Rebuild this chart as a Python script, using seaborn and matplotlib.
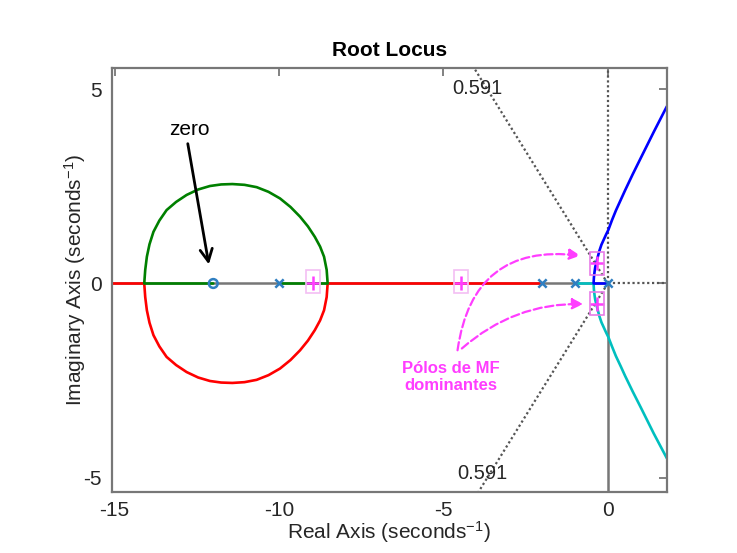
import numpy as np
import pandas as pd
import matplotlib
matplotlib.use("Agg")
import matplotlib.pyplot as plt
import seaborn as sns
from matplotlib.patches import Rectangle

# ---------------- data ----------------
pole_re = [0.0, -1.0, -2.0, -10.0]
pole_im = [0.0, 0.0, 0.0, 0.0]
zero_re = [-12.0]
zero_im = [0.0]

# branch starting at pole 0 (blue, upper)
blue_x = [0.0, -0.43, -0.42, -0.40, -0.38, -0.35, -0.30, -0.25, -0.19, -0.12, -0.05,
          0.02, 0.13, 0.25, 0.39, 0.53, 0.76, 1.00, 1.20, 1.40, 1.60, 1.80]
blue_y = [0.0, 0.0, 0.15, 0.30, 0.42, 0.52, 0.69, 0.85, 1.00, 1.13, 1.26,
          1.38, 1.63, 1.88, 2.14, 2.40, 2.81, 3.22, 3.56, 3.90, 4.23, 4.56]
# branch starting at pole -1 (cyan, lower)
cyan_x = [-1.0, -0.43, -0.42, -0.40, -0.38, -0.35, -0.30, -0.25, -0.19, -0.12, -0.05,
          0.02, 0.13, 0.25, 0.39, 0.53, 0.76, 1.00, 1.20, 1.40, 1.60, 1.80]
cyan_y = [0.0, 0.0, -0.15, -0.30, -0.42, -0.52, -0.69, -0.85, -1.00, -1.13, -1.26,
          -1.38, -1.62, -1.87, -2.12, -2.38, -2.78, -3.18, -3.52, -3.86, -4.18, -4.50]
# branch starting at pole -2 (red): real axis, lower arc, then to -inf
red_x = [-2.0, -8.52, -8.55, -8.63, -8.75, -8.91, -9.12, -9.36, -9.65, -9.97, -10.32,
         -10.68, -11.05, -11.42, -11.76, -12.10, -12.46, -12.81, -13.13, -13.42, -13.64,
         -13.82, -13.94, -14.02, -14.07, -14.10, -16.0]
red_y = [0.0, 0.0, -0.35, -0.69, -0.95, -1.20, -1.47, -1.72, -1.97, -2.19, -2.36,
         -2.48, -2.54, -2.56, -2.55, -2.51, -2.42, -2.28, -2.10, -1.89, -1.62,
         -1.33, -1.01, -0.69, -0.35, 0.0, 0.0]
# branch starting at pole -10 (green): real axis, upper arc, then to zero -12
green_x = [-10.0, -8.52, -8.55, -8.63, -8.75, -8.91, -9.12, -9.36, -9.65, -9.97, -10.32,
           -10.68, -11.05, -11.42, -11.76, -12.10, -12.46, -12.81, -13.13, -13.42, -13.64,
           -13.82, -13.94, -14.02, -14.07, -14.10, -12.0]
green_y = [0.0, 0.0, 0.35, 0.69, 0.95, 1.20, 1.47, 1.72, 1.97, 2.19, 2.36,
           2.48, 2.54, 2.56, 2.55, 2.51, 2.42, 2.28, 2.10, 1.89, 1.62,
           1.33, 1.01, 0.69, 0.35, 0.0, 0.0]

# selected closed-loop poles (magenta +)
dom_re = [-0.33, -0.33]
dom_im = [0.52, -0.52]
other_re = [-8.97, -4.45]
other_im = [0.0, 0.0]

zeta = 0.591
zeta_label = "0.591"

# ---------------- style ----------------
sns.set_theme(style="white")
plt.rcParams["font.family"] = ["Liberation Sans", "DejaVu Sans"]
plt.rcParams["mathtext.fontset"] = "custom"
plt.rcParams["mathtext.rm"] = "Liberation Sans"
plt.rcParams["mathtext.default"] = "regular"

W, H = 737, 553
fig = plt.figure(figsize=(W / 100, H / 100), dpi=100)
ax = fig.add_axes([111.7 / W, 1 - 491.7 / H, (666.7 - 111.7) / W, (491.7 - 68.3) / H])

XMIN, XMAX = -15.09, 1.795
YMIN, YMAX = -5.36, 5.54

grid_col = "#555555"
axis_col = "#777777"

# real / imaginary axis lines
ax.plot([XMIN - 1, 0], [0, 0], color=axis_col, lw=1.8, zorder=1)
ax.plot([0, XMAX + 1], [0, 0], color=grid_col, lw=1.6, ls=(0, (1, 1.2)), zorder=1)
ax.plot([0, 0], [YMIN - 1, 0], color=axis_col, lw=1.8, zorder=1)
ax.plot([0, 0], [0, YMAX + 1], color=grid_col, lw=1.6, ls=(0, (1, 1.2)), zorder=1)

# damping lines
slope = np.tan(np.arccos(zeta))
for sgn in (1, -1):
    ax.plot([0, -10], [0, sgn * 10 * slope], color=grid_col, lw=1.6,
            ls=(0, (1, 1.2)), zorder=1)
ax.text(-3.98, 5.03, zeta_label, fontsize=14.5, color="#262626", ha="center", va="center")
ax.text(-3.82, -4.90, zeta_label, fontsize=14.5, color="#262626", ha="center", va="center")

# branches
lw = 1.9
sns.lineplot(x=red_x, y=red_y, sort=False, estimator=None, color="#FF0000", lw=lw, ax=ax)
sns.lineplot(x=green_x, y=green_y, sort=False, estimator=None, color="#008000", lw=lw, ax=ax)
sns.lineplot(x=cyan_x, y=cyan_y, sort=False, estimator=None, color="#00BFBF", lw=lw, ax=ax)
sns.lineplot(x=blue_x, y=blue_y, sort=False, estimator=None, color="#0000FF", lw=lw, ax=ax)

# poles and zero
mcol = "#2F7FC1"
sns.scatterplot(x=pole_re, y=pole_im, marker="x", s=36, color=mcol, linewidth=1.8,
                ax=ax, zorder=5)
ax.scatter(zero_re, zero_im, marker="o", s=40, facecolors="none", edgecolors=mcol,
           linewidths=1.8, zorder=5)

# selected poles with boxes
mag = "#FF3DFF"
sns.scatterplot(x=dom_re + other_re, y=dom_im + other_im, marker="+", s=90, color=mag,
                linewidth=1.8, ax=ax, zorder=6)
bw, bh = 0.43, 0.59
for xr, yi in zip(dom_re, dom_im):
    ax.add_patch(Rectangle((xr - bw / 2, yi - bh / 2), bw, bh, fill=False,
                           edgecolor="#E77BE7", lw=1.2, zorder=6))
for xr, yi in zip(other_re, other_im):
    ax.add_patch(Rectangle((xr - bw / 2, yi - bh / 2 + 0.05), bw, bh, fill=False,
                           edgecolor="#F3BFF3", lw=1.2, zorder=6))

# annotations
ax.text(-12.73, 3.72, "zero", fontsize=15, color="black", ha="center", va="bottom")
ax.annotate("", xy=(-12.12, 0.42), xytext=(-12.79, 3.67),
            arrowprops=dict(arrowstyle="->", color="black", lw=2,
                            mutation_scale=22))

ax.text(-4.77, -2.41, "Pólos de MF\ndominantes", fontsize=12, color=mag,
        fontweight="bold", ha="center", va="center", linespacing=1.2)
ax.annotate("", xy=(-0.75, 0.71), xytext=(-4.58, -1.79),
            arrowprops=dict(arrowstyle="-|>", color=mag, lw=1.6, ls="--",
                            connectionstyle="arc3,rad=-0.5", mutation_scale=16))
ax.annotate("", xy=(-0.66, -0.53), xytext=(-4.50, -1.72),
            arrowprops=dict(arrowstyle="-|>", color=mag, lw=1.6, ls="--",
                            connectionstyle="arc3,rad=-0.2", mutation_scale=16))

# axes formatting
ax.set_xlim(XMIN, XMAX)
ax.set_ylim(YMIN, YMAX)
ax.set_xticks([-15, -10, -5, 0])
ax.set_yticks([-5, 0, 5])
ax.set_xticklabels(["-15", "-10", "-5", "0"])
ax.set_yticklabels(["-5", "0", "5"])
ax.tick_params(direction="in", top=True, right=True, length=6, width=1.3,
               color=axis_col, labelsize=15, labelcolor="#262626", pad=7)
for sp in ax.spines.values():
    sp.set_color(axis_col)
    sp.set_linewidth(1.6)
    sp.set_visible(True)

ax.set_xlabel("Real Axis (seconds$^{-1}$)", fontsize=15, color="#262626", labelpad=-1)
ax.set_ylabel("Imaginary Axis (seconds$^{-1}$)", fontsize=15, color="#262626")
ax.yaxis.set_label_coords(-0.042, 0.5)
ax.set_title("Root Locus", fontsize=15, fontweight="bold", color="black", pad=9)

fig.savefig("out.png", dpi=100, facecolor="white")
